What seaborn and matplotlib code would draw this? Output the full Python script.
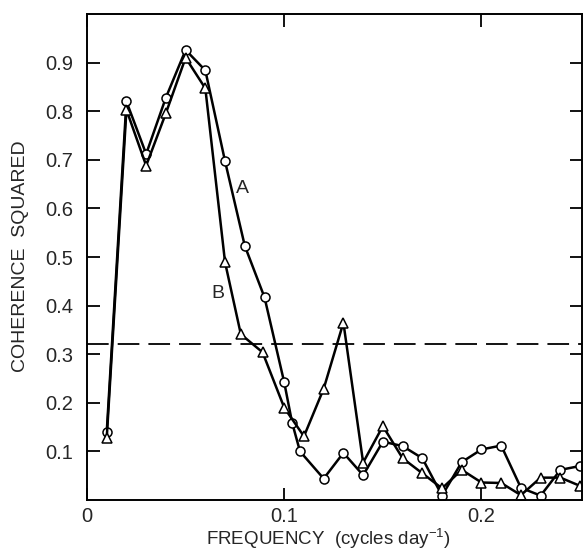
import numpy as np
import pandas as pd
import matplotlib
matplotlib.use("Agg")
import matplotlib.pyplot as plt
import seaborn as sns

# series A (circles) and B (triangles)
freq_a = [0.01, 0.02, 0.03, 0.04, 0.05, 0.06, 0.07, 0.08, 0.09, 0.10, 0.104, 0.108,
          0.12, 0.13, 0.14, 0.15, 0.16, 0.17, 0.18, 0.19, 0.20, 0.21, 0.22, 0.23, 0.24, 0.25]
coh_a = [0.139, 0.82, 0.712, 0.828, 0.926, 0.884, 0.697, 0.523, 0.417, 0.242, 0.159, 0.100,
         0.044, 0.097, 0.051, 0.120, 0.111, 0.086, 0.009, 0.078, 0.104, 0.112, 0.025, 0.009, 0.062, 0.070]

freq_b = [0.01, 0.02, 0.03, 0.04, 0.05, 0.06, 0.07, 0.078, 0.089, 0.10, 0.11, 0.12, 0.13,
          0.14, 0.15, 0.16, 0.17, 0.18, 0.19, 0.20, 0.21, 0.22, 0.23, 0.24, 0.25]
coh_b = [0.127, 0.803, 0.688, 0.796, 0.910, 0.847, 0.489, 0.341, 0.304, 0.190, 0.131, 0.229, 0.365,
         0.077, 0.152, 0.086, 0.055, 0.024, 0.062, 0.036, 0.035, 0.010, 0.046, 0.046, 0.029]

significance = 0.32
xticks = [0, 0.1, 0.2]
xtick_labels = ["0", "0.1", "0.2"]
yticks = [0.1, 0.2, 0.3, 0.4, 0.5, 0.6, 0.7, 0.8, 0.9]
ytick_labels = ["0.1", "0.2", "0.3", "0.4", "0.5", "0.6", "0.7", "0.8", "0.9"]

df = pd.concat([
    pd.DataFrame({"freq": freq_a, "coh": coh_a, "series": "A"}),
    pd.DataFrame({"freq": freq_b, "coh": coh_b, "series": "B"}),
], ignore_index=True)

sns.set_style("ticks")
plt.rcParams["font.family"] = ["Liberation Sans", "DejaVu Sans"]

fig = plt.figure(figsize=(5.85, 5.52), dpi=100)
ax = fig.add_axes([0.1487, 0.0942, 0.8463, 0.8804])

sns.lineplot(data=df, x="freq", y="coh", hue="series", style="series",
             markers={"A": "o", "B": "^"}, dashes=False,
             palette={"A": "black", "B": "black"}, sort=False, estimator=None,
             linewidth=1.8, markersize=6.5, markerfacecolor="white",
             markeredgecolor="black", markeredgewidth=1.1, legend=False, ax=ax)

ax.axhline(significance, color="black", linewidth=1.3, dashes=(12, 5))

# curve labels
ax.text(0.0787, 0.64, "A", fontsize=14, ha="center", va="center")
ax.text(0.0665, 0.425, "B", fontsize=14, ha="center", va="center")

ax.set_xlim(0, 0.251)
ax.set_ylim(0, 1.0)
ax.set_xticks(xticks)
ax.set_xticklabels(xtick_labels)
ax.set_yticks(yticks)
ax.set_yticklabels(ytick_labels)
ax.tick_params(direction="in", length=9, width=1.3, labelsize=14.5,
               top=True, right=True, color="black")
ax.tick_params(axis="x", pad=5)
ax.tick_params(axis="y", pad=10)
for s in ax.spines.values():
    s.set_linewidth(1.4)
    s.set_color("black")

ax.set_xlabel("FREQUENCY  (cycles day$^{\\mathregular{-1}}$)", fontsize=13.5)
ax.set_ylabel("COHERENCE  SQUARED", fontsize=14)
ax.xaxis.set_label_coords(0.487, -0.054)
ax.yaxis.set_label_coords(-0.118, 0.502)

fig.savefig("out.png", dpi=100)
